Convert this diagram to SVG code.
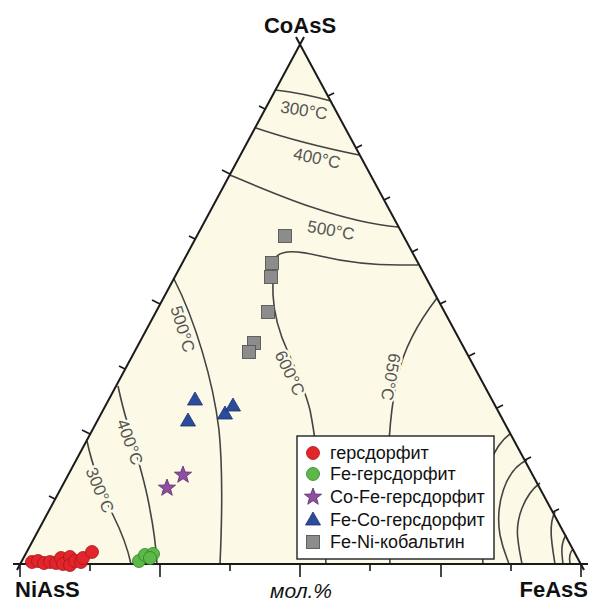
<svg xmlns="http://www.w3.org/2000/svg" width="592" height="603" viewBox="0 0 592 603">
<style>
.iso{fill:none;stroke:#444;stroke-width:1.6}
.edge{fill:none;stroke:#1a1a1a;stroke-width:2}
.tick{stroke:#1a1a1a;stroke-width:1.6}
.lbl{font-family:"Liberation Sans",Arial,sans-serif;font-size:17px;fill:#555;text-anchor:middle}
.msk{stroke:#FCFAE6;stroke-width:5;paint-order:stroke;stroke-linejoin:round}
.corner{font-family:"Liberation Sans",Arial,sans-serif;font-size:22px;font-weight:bold;fill:#111}
.leg{font-family:"Liberation Sans",Arial,sans-serif;font-size:18px;fill:#111}
.red{fill:#E3242B;stroke:#A3161C;stroke-width:0.8}
.grn{fill:#5CB947;stroke:#2F7E2A;stroke-width:0.8}
.pur{fill:#8D4FA2;stroke:#5A2A6C;stroke-width:0.8}
.blu{fill:#2B4C9E;stroke:#1A2F6A;stroke-width:0.8}
.gry{fill:#8C8C8C;stroke:#555;stroke-width:0.9}
</style>
<defs>
<circle id="cir" r="6.5"/>
<polygon id="star" points="0,-9 2.3,-3 8.6,-2.8 3.6,1.1 5.3,7.3 0,3.7 -5.3,7.3 -3.6,1.1 -8.6,-2.8 -2.3,-3"/>
<polygon id="tri" points="0,-8 7.5,5 -7.5,5"/>
<rect id="sq" x="-6.5" y="-6.5" width="13" height="13"/>
</defs>
<rect width="592" height="603" fill="#fff"/>
<g id="triangle">
<polygon points="300,44 20,564 581,564" fill="#FCFAE6"/>
</g>
<g id="isotherms">
<path class="iso" d="M275,90 Q302,93 331,101"/>
<path class="iso" d="M256,128 Q300,143 359,155"/>
<path class="iso" d="M230,175 C275,194 340,222 398,227"/>
<path class="iso" d="M418,265 L400,265 C370,265 345,262 320,256 C300,251 283,250 277,256 C272,262 273,280 273,295 C274,315 280,335 288,352 C297,372 305,390 310,410 C318,450 323,510 326,564"/>
<path class="iso" d="M437,298 C420,320 405,345 398,375 C391,405 388,440 388,480 C388,520 389,545 390,564"/>
<path class="iso" d="M174,279 C195,320 213,380 219,430 C223,470 222,520 220,564"/>
<path class="iso" d="M118,386 C121,400 124,412 128,425 C135,450 145,480 150,510 C154,530 156,548 157,564"/>
<path class="iso" d="M87,441 C92,465 103,495 113,515 C122,533 128,550 131,564"/>
<path class="iso" d="M510,434 C485,452 478,500 483,564"/>
<path class="iso" d="M527,460 C505,470 495,505 500,535 C503,550 507,558 509,564"/>
<path class="iso" d="M540,483 C524,495 515,520 518,540 C519,550 521,558 522,564"/>
<path class="iso" d="M555,512 C548,525 552,545 555,564"/>
<path class="iso" d="M566,535 C560,545 562,555 563,564"/>
<path class="iso" d="M573,549 C569,553 569,558 570,564"/>
</g>
<g id="isotherm-labels">
<text class="lbl" transform="translate(304,110) rotate(9)" y="6">300°C</text>
<text class="lbl" transform="translate(317,158) rotate(12)" y="6">400°C</text>
<text class="lbl" transform="translate(331,230) rotate(10)" y="6">500°C</text>
<text class="lbl" transform="translate(183,329) rotate(73)" y="6">500°C</text>
<text class="lbl msk" transform="translate(130,442) rotate(70)" y="6">400°C</text>
<text class="lbl msk" transform="translate(100,490) rotate(67)" y="6">300°C</text>
<text class="lbl msk" transform="translate(290,373) rotate(64)" y="6">600°C</text>
<text class="lbl msk" transform="translate(391,377) rotate(100)" y="6">650°C</text>
</g>
<g id="axes">
<path class="edge" d="M13,564 L588,564"/>
<path class="edge" d="M17,570 L304,37"/>
<path class="edge" d="M584,570 L296,37"/>
<g class="tick">
<line x1="20" y1="564" x2="20" y2="577"/><line x1="90" y1="564" x2="90" y2="571"/>
<line x1="160" y1="564" x2="160" y2="577"/><line x1="230" y1="564" x2="230" y2="571"/>
<line x1="300" y1="564" x2="300" y2="577"/><line x1="370" y1="564" x2="370" y2="571"/>
<line x1="441" y1="564" x2="441" y2="577"/><line x1="511" y1="564" x2="511" y2="571"/>
<line x1="581" y1="564" x2="581" y2="577"/>
<line x1="55" y1="499" x2="49" y2="496"/><line x1="90" y1="434" x2="82" y2="430"/>
<line x1="125" y1="369" x2="119" y2="366"/><line x1="160" y1="304" x2="152" y2="300"/>
<line x1="195" y1="239" x2="189" y2="236"/><line x1="230" y1="174" x2="222" y2="170"/>
<line x1="265" y1="109" x2="259" y2="106"/>
<line x1="328" y1="96" x2="334" y2="93"/><line x1="356" y1="148" x2="362" y2="145"/>
<line x1="384" y1="200" x2="390" y2="197"/><line x1="412" y1="252" x2="418" y2="249"/>
<line x1="440" y1="304" x2="446" y2="301"/><line x1="469" y1="356" x2="475" y2="353"/>
<line x1="497" y1="408" x2="503" y2="405"/><line x1="525" y1="460" x2="531" y2="457"/>
<line x1="553" y1="512" x2="559" y2="509"/>
</g>
</g>
<g id="data">
<g class="red">
<use href="#cir" x="32" y="562"/><use href="#cir" x="38" y="561"/><use href="#cir" x="44" y="563"/>
<use href="#cir" x="50" y="562"/><use href="#cir" x="56" y="563"/><use href="#cir" x="61" y="558"/>
<use href="#cir" x="63" y="564"/><use href="#cir" x="70" y="557"/><use href="#cir" x="70" y="565"/>
<use href="#cir" x="75" y="561"/><use href="#cir" x="81" y="562"/><use href="#cir" x="83" y="558"/>
<use href="#cir" x="92" y="552"/>
</g>
<g class="grn">
<use href="#cir" x="139" y="561"/><use href="#cir" x="145" y="555"/><use href="#cir" x="153" y="554"/><use href="#cir" x="150" y="558"/>
</g>
<g class="pur">
<use href="#star" x="167" y="488"/><use href="#star" x="183" y="475"/>
</g>
<g class="blu">
<use href="#tri" x="195" y="400"/><use href="#tri" x="188" y="421"/><use href="#tri" x="225" y="414"/><use href="#tri" x="233" y="406"/>
</g>
<g class="gry">
<use href="#sq" x="285" y="236"/><use href="#sq" x="272" y="263"/><use href="#sq" x="271" y="277"/>
<use href="#sq" x="268" y="312"/><use href="#sq" x="254" y="343"/><use href="#sq" x="249" y="352"/>
</g>
</g>
<g id="legend">
<rect x="297" y="436" width="197" height="123" fill="#fff" stroke="#222" stroke-width="1.4"/>
<use href="#cir" x="313" y="453" class="red"/>
<use href="#cir" x="313" y="474" class="grn"/>
<use href="#star" x="313" y="497" class="pur"/>
<use href="#tri" x="313" y="520" class="blu"/>
<use href="#sq" x="313" y="542" class="gry"/>
<text class="leg" x="330" y="459">герсдорфит</text>
<text class="leg" x="330" y="480">Fe-герсдорфит</text>
<text class="leg" x="330" y="503">Co-Fe-герсдорфит</text>
<text class="leg" x="330" y="526">Fe-Co-герсдорфит</text>
<text class="leg" x="330" y="548">Fe-Ni-кобальтин</text>
</g>
<g id="corner-labels">
<text class="corner" x="300" y="33" text-anchor="middle">CoAsS</text>
<text class="corner" x="15" y="597">NiAsS</text>
<text class="corner" x="588" y="597" text-anchor="end">FeAsS</text>
<text x="301" y="598" text-anchor="middle" font-family="Liberation Sans, Arial, sans-serif" font-size="21" font-style="italic" fill="#111">мол.%</text>
</g>
</svg>
